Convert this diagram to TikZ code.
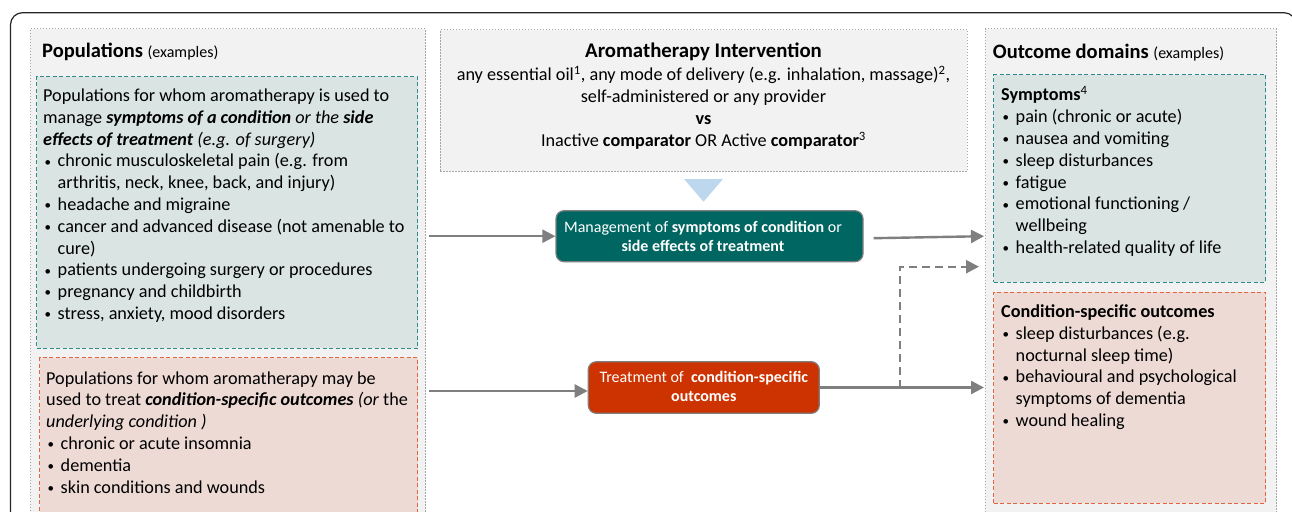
\documentclass[tikz,border=0pt]{standalone}
\usepackage{fontspec}
\setmainfont{Carlito}
\usetikzlibrary{arrows.meta}
\definecolor{panelfill}{HTML}{F2F2F2}
\definecolor{panelborder}{HTML}{A6A6A6}
\definecolor{tealfill}{HTML}{D9E4E3}
\definecolor{tealborder}{HTML}{2E8B8B}
\definecolor{pinkfill}{HTML}{EDDAD4}
\definecolor{redborder}{HTML}{E4643F}
\definecolor{mgmtfill}{HTML}{006662}
\definecolor{treatfill}{HTML}{CC3300}
\definecolor{arrowgray}{HTML}{7F7F7F}
\definecolor{triblue}{HTML}{BDD7EE}
\newcommand\bl{\makebox[14.5pt][l]{\hspace{1.5pt}\raisebox{0.8pt}{\fontsize{13}{13}\selectfont\textbullet}}}
\newcommand\cn{\hspace*{14.5pt}}
\tikzset{
  panel/.style={draw=panelborder, fill=panelfill, line width=0.9pt, dash pattern=on 1.5pt off 1.5pt, anchor=north west, inner sep=0pt},
  tealbox/.style={draw=tealborder, fill=tealfill, line width=1.1pt, dash pattern=on 4pt off 2.5pt, anchor=north west, inner sep=0pt},
  redbox/.style={draw=redborder, fill=pinkfill, line width=1.1pt, dash pattern=on 4pt off 2.5pt, anchor=north west, inner sep=0pt},
  txt/.style={anchor=base west, align=left, inner sep=0pt, font=\fontsize{18.2}{21.8}\selectfont},
  ttl/.style={anchor=base west, inner sep=0pt},
  actbox/.style={draw=arrowgray, line width=1.2pt, rounded corners=8pt, inner sep=0pt},
  actlabel/.style={text=white, align=center, inner sep=0pt, font=\fontsize{16}{19}\selectfont},
  flow/.style={draw=arrowgray, line width=2.4pt, -{Triangle[length=13pt,width=13pt]}},
  flowdash/.style={flow, dash pattern=on 8pt off 5pt},
}
\begin{document}
\begin{tikzpicture}[x=1pt,y=-1pt]
\useasboundingbox (0,0) rectangle (1292,511);
\fill[white] (0,0) rectangle (1292,511);
\begin{scope}
\clip (0,0) rectangle (1292,511);
\draw[line width=1.2pt, rounded corners=12pt, draw=black!85] (10.5,12.7) rectangle (1296,560);

% panels
\node[panel, minimum width=395pt, minimum height=520pt] (pop) at (30,28.3) {};
\node[panel, minimum width=527pt, minimum height=141.7pt] (int) at (440,29.3) {};
\node[panel, minimum width=291pt, minimum height=520pt] (out) at (985,28.3) {};

% left inner boxes
\node[tealbox, minimum width=381.3pt, minimum height=271.7pt] (popA) at (36,76) {};
\node[redbox, minimum width=378pt, minimum height=200pt] (popB) at (39.3,357.3) {};

% right inner boxes
\node[tealbox, minimum width=271.7pt, minimum height=207.4pt] (outA) at (993.3,74.3) {};
\node[redbox, minimum width=272pt, minimum height=211pt] (outB) at (993,291.7) {};

% titles (anchored at baseline)
\node[ttl] (poptitle) at (42,58) {\fontsize{20.5}{22}\selectfont\textbf{Populations} \fontsize{16}{18}\selectfont(examples)};
\node[ttl] (outtitle) at (992.7,58.3) {\fontsize{20.5}{22}\selectfont\textbf{Outcome domains} \fontsize{16}{18}\selectfont(examples)};

% left texts (anchored at baseline of last line)
\node[txt] (popAtext) at (43,319.5) {Populations for whom aromatherapy is used to\\
manage \textbf{\textit{symptoms of a condition}} \textit{or the} \textbf{\textit{side}}\\
\textbf{\textit{effects of treatment}} \textit{(e.g. of surgery)}\\
\bl chronic musculoskeletal pain (e.g. from\\
\cn arthritis, neck, knee, back, and injury)\\
\bl headache and migraine\\
\bl cancer and advanced disease (not amenable to\\
\cn cure)\\
\bl patients undergoing surgery or procedures\\
\bl pregnancy and childbirth\\
\bl stress, anxiety, mood disorders};

\node[txt] (popBtext) at (46,493) {Populations for whom aromatherapy may be\\
used to treat \textbf{\textit{condition-specific outcomes}} \textit{(or} the\\
\textit{underlying condition )}\\
\bl chronic or acute insomnia\\
\bl dementia\\
\bl skin conditions and wounds};

% intervention
\node[anchor=base, inner sep=0pt, font=\fontsize{20.8}{22}\selectfont\bfseries] (inttitle) at (703.5,57) {Aromatherapy Intervention};
\node[anchor=base, align=center, inner sep=0pt, font=\fontsize{18.2}{22}\selectfont] (intbody) at (703.5,146.5) {any essential oil\textsuperscript{1}, any mode of delivery (e.g. inhalation, massage)\textsuperscript{2},\\
self-administered or any provider\\
\textbf{vs}\\
Inactive \textbf{comparator} OR Active \textbf{comparator}\textsuperscript{3}};

\fill[triblue] (684,179) -- (723,179) -- (703.5,201.7) -- cycle;

% action boxes
\node[actbox, fill=mgmtfill, minimum width=307pt, minimum height=51pt] (mgmt) at (709.5,236.2) {};
\node[actlabel] (mgmtlabel) at (703,236.5) {Management of \textbf{symptoms of condition} or\\\textbf{side effects of treatment}};
\node[actbox, fill=treatfill, minimum width=231pt, minimum height=51.6pt] (treat) at (703.8,387.5) {};
\node[actlabel] (treatlabel) at (703.8,386) {Treatment of\ \ \textbf{condition-specific}\\\textbf{outcomes}};

% right texts (anchored at baseline of last line)
\node[txt] (outAtext) at (1001,253.5) {\textbf{Symptoms}\textsuperscript{4}\\
\bl pain (chronic or acute)\\
\bl nausea and vomiting\\
\bl sleep disturbances\\
\bl fatigue\\
\bl emotional functioning /\\
\cn wellbeing\\
\bl health-related quality of life};

\node[txt] (outBtext) at (1001,426.5) {\textbf{Condition-specific outcomes}\\
\bl sleep disturbances (e.g.\\
\cn nocturnal sleep time)\\
\bl behavioural and psychological\\
\cn symptoms of dementia\\
\bl wound healing};

% connectors
\draw[flow] ([xshift=3pt]pop.east |- mgmt.west) -- (mgmt.west);
\draw[flow] ([xshift=3pt,yshift=-3.5pt]pop.east |- treat.west) -- ([yshift=-3.5pt]treat.west);
\draw[flow] ([xshift=10pt,yshift=-2pt]mgmt.east) -- ([xshift=-1pt]out.west |- mgmt.east);
\draw[flow] (treat.east) -- ([xshift=-1pt]out.west |- treat.east);
\path (treat.east) ++(80,0) coordinate (branch);
\coordinate (dtip) at (979,266.7);
\draw[flowdash] (branch) |- (dtip);
\end{scope}
\end{tikzpicture}
\end{document}
